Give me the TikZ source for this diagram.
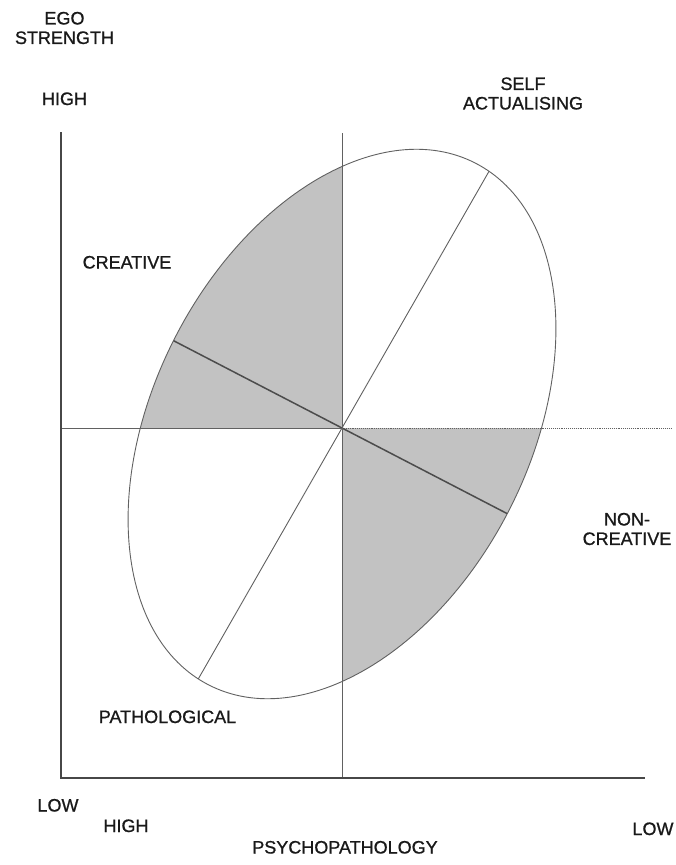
\documentclass[tikz,border=0pt]{standalone}
\usepackage{fontspec}
\setmainfont{Liberation Sans}
\newfontfamily\lblfont{Liberation Sans}[FakeBold=0.9]
\usetikzlibrary{calc}
\definecolor{shadegray}{gray}{0.76}
\definecolor{linegray}{gray}{0.38}
\begin{document}
\begin{tikzpicture}[x=1pt,y=-1pt,
  lbl/.style={font=\lblfont\fontsize{18}{19.5}\selectfont, inner sep=0pt, align=center, text=black!90},
  axisline/.style={line width=1.6pt, draw=black!72},
  thinline/.style={line width=0.9pt, draw=linegray},
  darkline/.style={line width=1.5pt, draw=black!70},
  dotline/.style={line width=0.9pt, draw=linegray, densely dotted}]
\useasboundingbox (0,0) rectangle (675,865);
\fill[white] (0,0) rectangle (675,865);
% key points
\coordinate (C) at (342,428);
\coordinate (E) at (342,424);
\coordinate (ytop) at (61,132);
\coordinate (org) at (61,778);
\coordinate (xend) at (645,778);
\coordinate (vtop) at (342,133);
\coordinate (vbot) at (342,778);
\coordinate (hleft) at (61,428);
\coordinate (hright) at (672,428);
% shaded sectors and diameters inside the ellipse
\begin{scope}
  \clip[rotate around={63:(E)}] (E) ellipse [x radius=293pt, y radius=188pt];
  \fill[shadegray] (0,0) rectangle (C);
  \fill[shadegray] (C) rectangle (675,865);
  \draw[thinline] ($(C)+(60.2:400pt)$) -- ($(C)+(240.2:400pt)$);
  \draw[darkline] ($(C)+(152.6:400pt)$) -- ($(C)+(-27.4:400pt)$);
\end{scope}
% reference lines
\draw[thinline] (vtop) -- (vbot);
\draw[thinline] (hleft) -- (C);
\draw[dotline] (C) -- (hright);
% ellipse outline
\draw[thinline, rotate around={63:(E)}] (E) ellipse [x radius=293pt, y radius=188pt];
% axes
\draw[axisline] (ytop) -- (org) -- (xend);
% labels
\node[lbl] (ego) at (64.5,28) {EGO\\STRENGTH};
\node[lbl, anchor=base] (hightop) at (64.5,105) {HIGH};
\node[lbl] (self) at (523,93.5) {SELF\\ACTUALISING};
\node[lbl, anchor=base] (creative) at (127,268.5) {CREATIVE};
\node[lbl] (noncreative) at (627,529) {NON-\\CREATIVE};
\node[lbl, anchor=base] (patho) at (167.5,723) {PATHOLOGICAL};
\node[lbl, anchor=base] (lowleft) at (58,811.5) {LOW};
\node[lbl, anchor=base] (highbot) at (126,832) {HIGH};
\node[lbl, anchor=base] (lowright) at (653,835) {LOW};
\node[lbl, anchor=base] (psycho) at (345,853.5) {PSYCHOPATHOLOGY};
\end{tikzpicture}
\end{document}
